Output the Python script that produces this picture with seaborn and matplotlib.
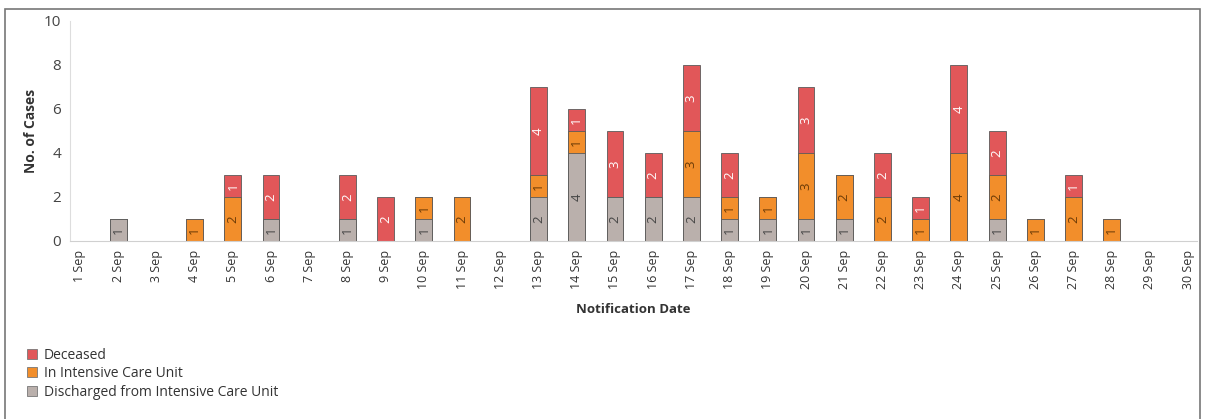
import pandas as pd
import numpy as np
import matplotlib
matplotlib.use('Agg')
import matplotlib.pyplot as plt
import seaborn as sns
from matplotlib.patches import Rectangle

# Values (stacked: discharged / ICU / deceased)
dates = [f"{d} Sep" for d in range(1, 31)]
discharged = [0, 1, 0, 0, 0, 1, 0, 1, 0, 1, 0, 0, 2, 4, 2, 2, 2, 1, 1, 1, 1, 0, 0, 0, 1, 0, 0, 0, 0, 0]
in_icu     = [0, 0, 0, 1, 2, 0, 0, 0, 0, 1, 2, 0, 1, 1, 0, 0, 3, 1, 1, 3, 2, 2, 1, 4, 2, 1, 2, 1, 0, 0]
deceased   = [0, 0, 0, 0, 1, 2, 0, 2, 2, 0, 0, 0, 4, 1, 3, 2, 3, 2, 0, 3, 0, 2, 1, 4, 2, 0, 1, 0, 0, 0]

series_names = ['Deceased', 'In Intensive Care Unit', 'Discharged from Intensive Care Unit']
colors = {'Deceased': '#E15759', 'In Intensive Care Unit': '#F28E2B',
          'Discharged from Intensive Care Unit': '#BAB0AC'}
label_colors = {'Deceased': 'white', 'In Intensive Care Unit': '#6b3a06',
                'Discharged from Intensive Care Unit': '#444444'}

df = pd.DataFrame({'date': dates, 'dis': discharged, 'icu': in_icu, 'dec': deceased})
df['lvl1'] = df['dis']
df['lvl2'] = df['dis'] + df['icu']
df['lvl3'] = df['dis'] + df['icu'] + df['dec']

sns.set_style('white')
plt.rcParams['font.family'] = ['Open Sans', 'DejaVu Sans']

fig = plt.figure(figsize=(12.07, 4.19), dpi=100)
ax = fig.add_axes([0.058, 0.425, 0.934, 0.525])

# cumulative totals drawn back to front so they read as stacked segments
for col, name in [('lvl3', 'Deceased'), ('lvl2', 'In Intensive Care Unit'),
                  ('lvl1', 'Discharged from Intensive Care Unit')]:
    sns.barplot(data=df, x='date', y=col, order=dates, color=colors[name],
                width=0.44, edgecolor='#5a5a5a', linewidth=0.6,
                saturation=1, ax=ax)

# segment value labels
for i in range(len(dates)):
    b = 0
    for val, name in [(discharged[i], 'Discharged from Intensive Care Unit'),
                      (in_icu[i], 'In Intensive Care Unit'),
                      (deceased[i], 'Deceased')]:
        if val > 0:
            ax.text(i, b + val / 2, str(val), rotation=90, ha='center', va='center',
                    fontsize=9.5, color=label_colors[name])
        b += val

ax.set_ylim(0, 10)
ax.set_xlim(-0.26, 29.24)
ax.set_yticks([0, 2, 4, 6, 8, 10])
ax.tick_params(axis='y', labelsize=11, colors='#555555', length=3, width=0.6)
ax.tick_params(axis='x', labelsize=9, colors='#333333', rotation=90, length=3, width=0.6)
for lab in ax.get_yticklabels():
    lab.set_color('#444444')
ax.set_ylabel('No. of Cases', fontsize=10, fontweight='bold', color='#333333')
ax.set_xlabel('Notification Date', fontsize=9.5, fontweight='bold', color='#333333', labelpad=10)
if ax.get_legend() is not None:
    ax.get_legend().remove()

for s in ['top', 'right']:
    ax.spines[s].set_visible(False)
ax.spines['left'].set_color('#dddddd')
ax.spines['bottom'].set_color('#d0d0d0')
ax.spines['left'].set_linewidth(0.8)
ax.spines['bottom'].set_linewidth(0.8)

# legend below the axes, custom handles in the order shown
handles = [Rectangle((0, 0), 1, 1, facecolor=colors[n], edgecolor='#777777', linewidth=0.6)
           for n in series_names]
fig.legend(handles, series_names, loc='upper left', bbox_to_anchor=(0.012, 0.2),
           frameon=False, fontsize=10, handlelength=0.7, handleheight=0.7,
           handletextpad=0.5, labelspacing=0.25, labelcolor='#333333')

# outer frame like the dashboard container
fig.patches.append(Rectangle((0.004, -0.05), 0.99, 1.028, transform=fig.transFigure,
                             fill=False, edgecolor='#777777', linewidth=1.2))

fig.savefig('out.png', dpi=100)
